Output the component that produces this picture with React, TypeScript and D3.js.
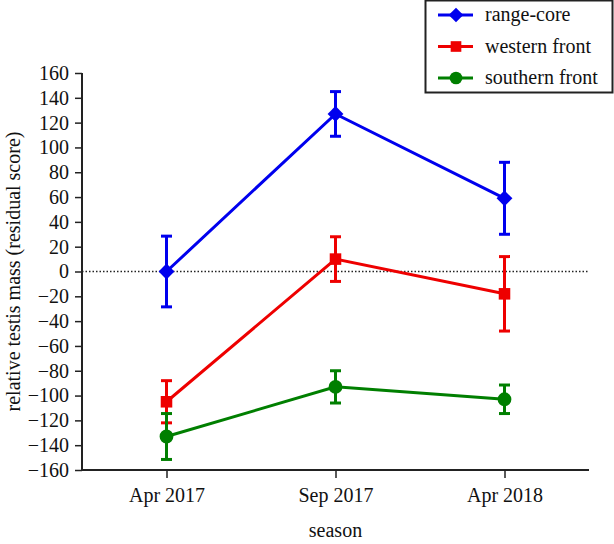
import { useEffect, useRef } from 'react';
import * as d3 from 'd3';

// seasons on the x axis
const seasons = ['Apr 2017', 'Sep 2017', 'Apr 2018'];
const yTicks = d3.range(-160, 161, 20);

// group means and half-widths of the error bars (residual score)
const seriesNames = ['range-core', 'western front', 'southern front'];
const rangeCore = [0, 127, 59];
const rangeCoreErr = [28.5, 18, 29];
const westernFront = [-105, 10, -18];
const westernFrontErr = [17, 18, 30];
const southernFront = [-133, -93, -103];
const southernFrontErr = [18.5, 13, 11.5];

const colors = ['#0000ee', '#ee0000', '#007f00'];
const symbols = [d3.symbolDiamond2, d3.symbolSquare2, d3.symbolCircle];

export default function App() {
  const svgRef = useRef<SVGSVGElement>(null);

  useEffect(() => {
    if (!svgRef.current) return;
    const width = 614;
    const height = 544;
    const margin = { top: 73, right: 25, bottom: 73, left: 82 };
    const font = "'Liberation Serif', 'Times New Roman', Times, serif";

    const svg = d3.select(svgRef.current);
    svg.selectAll('*').remove();

    const x = d3.scalePoint<string>()
      .domain(seasons)
      .range([margin.left, width - margin.right])
      .padding(0.5);
    const y = d3.scaleLinear()
      .domain([-160, 160])
      .range([height - margin.bottom - 1, margin.top]);

    // zero reference line
    svg.append('line')
      .attr('x1', margin.left)
      .attr('x2', width - margin.right)
      .attr('y1', y(0))
      .attr('y2', y(0))
      .attr('stroke', '#222')
      .attr('stroke-width', 1.5)
      .attr('stroke-dasharray', '1.5,2');

    // y axis
    const yAxis = svg.append('g')
      .attr('transform', `translate(${margin.left},0)`)
      .call(d3.axisLeft(y).tickValues(yTicks).tickSize(7).tickPadding(6)
        .tickFormat(d => d3.format('')(d as number).replace('-', '\u2212')));
    yAxis.select('.domain').attr('stroke', '#222').attr('stroke-width', 2)
      .attr('d', `M0,${y(-160)}V${y(160)}`);
    yAxis.selectAll('.tick line').attr('stroke', '#222').attr('stroke-width', 1.5);
    yAxis.selectAll('.tick text').style('font-family', font).style('font-size', '20px').attr('fill', '#111');

    // x axis
    const xAxis = svg.append('g')
      .attr('transform', `translate(0,${y(-160)})`)
      .call(d3.axisBottom(x).tickSize(8).tickPadding(10));
    xAxis.select('.domain').attr('stroke', '#222').attr('stroke-width', 2)
      .attr('d', `M${margin.left},0H${width - margin.right}`);
    xAxis.selectAll('.tick line').attr('stroke', '#222').attr('stroke-width', 1.5);
    xAxis.selectAll('.tick text').style('font-family', font).style('font-size', '20px').attr('fill', '#111');

    // axis titles
    svg.append('text')
      .attr('x', x('Sep 2017')!)
      .attr('y', 537)
      .attr('text-anchor', 'middle')
      .style('font-family', font)
      .style('font-size', '20px')
      .attr('fill', '#111')
      .text('season');
    svg.append('text')
      .attr('transform', `translate(20,${y(0)}) rotate(-90)`)
      .attr('text-anchor', 'middle')
      .style('font-family', font)
      .style('font-size', '20px')
      .attr('fill', '#111')
      .text('relative testis mass (residual score)');

    const series = [
      { name: seriesNames[0], values: rangeCore, err: rangeCoreErr },
      { name: seriesNames[1], values: westernFront, err: westernFrontErr },
      { name: seriesNames[2], values: southernFront, err: southernFrontErr },
    ];

    const line = d3.line<number>()
      .x((_, i) => x(seasons[i])!)
      .y(d => y(d));

    const symbolSizes = [160, 170, 150];

    series.forEach((s, si) => {
      const g = svg.append('g');
      // error bars
      s.values.forEach((v, i) => {
        const cx = x(seasons[i])!;
        const top = y(v + s.err[i]);
        const bot = y(v - s.err[i]);
        g.append('line').attr('x1', cx).attr('x2', cx).attr('y1', top).attr('y2', bot)
          .attr('stroke', colors[si]).attr('stroke-width', 3);
        [top, bot].forEach(yy => {
          g.append('line').attr('x1', cx - 5.5).attr('x2', cx + 5.5).attr('y1', yy).attr('y2', yy)
            .attr('stroke', colors[si]).attr('stroke-width', 3);
        });
      });
      g.append('path')
        .datum(s.values)
        .attr('d', line)
        .attr('fill', 'none')
        .attr('stroke', colors[si])
        .attr('stroke-width', 3);
      g.selectAll('path.mark')
        .data(s.values)
        .enter()
        .append('path')
        .attr('class', 'mark')
        .attr('transform', (d, i) => `translate(${x(seasons[i])},${y(d)})`)
        .attr('d', d3.symbol(symbols[si], symbolSizes[si])())
        .attr('fill', colors[si]);
    });

    // legend
    const legend = svg.append('g');
    legend.append('rect')
      .attr('x', 425.5).attr('y', 0.5).attr('width', 187).attr('height', 92)
      .attr('fill', '#fff').attr('stroke', '#222').attr('stroke-width', 2);
    series.forEach((s, si) => {
      const ly = 15 + si * 31.5;
      legend.append('line').attr('x1', 438).attr('x2', 473).attr('y1', ly).attr('y2', ly)
        .attr('stroke', colors[si]).attr('stroke-width', 3);
      legend.append('path')
        .attr('transform', `translate(456,${ly})`)
        .attr('d', d3.symbol(symbols[si], symbolSizes[si] * 0.85)())
        .attr('fill', colors[si]);
      legend.append('text')
        .attr('x', 485).attr('y', ly + 6)
        .style('font-family', font).style('font-size', '20px').attr('fill', '#111')
        .text(s.name);
    });
  }, []);

  return (
    <svg ref={svgRef} width={614} height={544}
      style={{ position: 'absolute', left: 0, top: 0, background: '#fff' }} />
  );
}
